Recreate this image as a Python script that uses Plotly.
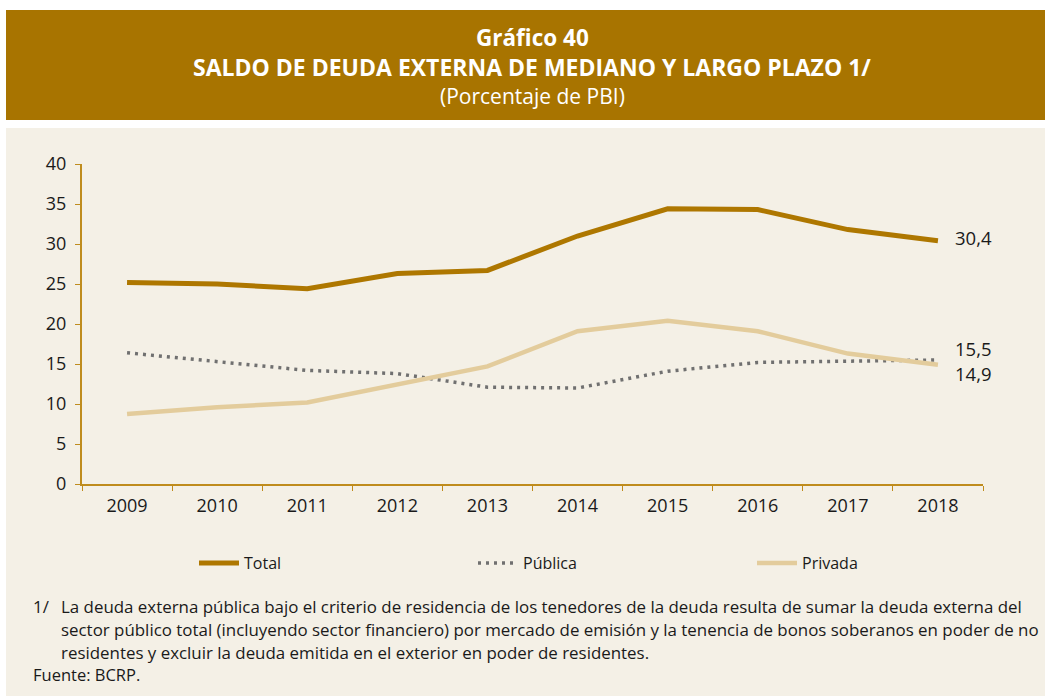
import plotly.graph_objects as go

years = ["2009", "2010", "2011", "2012", "2013", "2014", "2015", "2016", "2017", "2018"]
total = [25.2, 25.0, 24.4, 26.3, 26.7, 31.0, 34.4, 34.3, 31.8, 30.4]
publica = [16.4, 15.3, 14.2, 13.8, 12.1, 12.0, 14.1, 15.2, 15.3, 15.5]
privada = [8.75, 9.6, 10.2, 12.5, 14.7, 19.1, 20.4, 19.1, 16.3, 14.9]
y_ticks = [0, 5, 10, 15, 20, 25, 30, 35, 40]

C_TOTAL = "#AE7700"
C_PUB = "#707070"
C_PRIV = "#E3CC9C"
C_AXIS = "#BF8C1E"
FONT = "Open Sans"

fig = go.Figure()
fig.add_trace(go.Scatter(x=years, y=total, name="Total", mode="lines",
                         line=dict(color=C_TOTAL, width=5)))
fig.add_trace(go.Scatter(x=years, y=publica, name="Pública", mode="lines",
                         line=dict(color=C_PUB, width=3.5, dash="3px,5px")))
fig.add_trace(go.Scatter(x=years, y=privada, name="Privada", mode="lines",
                         line=dict(color=C_PRIV, width=4.5)))

def fmt(v):
    return f"{v:.1f}".replace(".", ",")

last = len(years) - 1
for series, ys in [(total, 3), (publica, 12), (privada, -9)]:
    fig.add_annotation(x=last, y=series[-1], xref="x", yref="y",
                       text=fmt(series[-1]), showarrow=False, xanchor="left",
                       xshift=16, yshift=ys, borderpad=0,
                       font=dict(family=FONT, size=18.5, color="#1a1a1a"))

def px_x(px):
    return (px - 82) / 901

def px_y(py):
    return (484 - py) / 320

# header banner and panel
fig.add_shape(type="rect", xref="paper", yref="paper", layer="below",
              x0=px_x(6), x1=px_x(1046), y0=px_y(120), y1=px_y(10),
              fillcolor="#A87400", line=dict(width=0))
fig.add_shape(type="rect", xref="paper", yref="paper", layer="below",
              x0=px_x(6), x1=px_x(1046), y0=px_y(696), y1=px_y(128),
              fillcolor="#F4F0E6", line=dict(width=0))

fig.add_annotation(xref="paper", yref="paper", x=px_x(532), y=px_y(38),
                   text="<b>Gráfico 40</b>", showarrow=False, xanchor="center", yanchor="middle",
                   font=dict(family=FONT, size=22.5, color="white"))
fig.add_annotation(xref="paper", yref="paper", x=px_x(532), y=px_y(67),
                   text="<b>SALDO DE DEUDA EXTERNA DE MEDIANO Y LARGO PLAZO 1/</b>", showarrow=False,
                   xanchor="center", yanchor="middle",
                   font=dict(family=FONT, size=23, color="white"))
fig.add_annotation(xref="paper", yref="paper", x=px_x(532), y=px_y(96),
                   text="(Porcentaje de PBI)", showarrow=False, xanchor="center", yanchor="middle",
                   font=dict(family=FONT, size=21, color="white"))

foot_lines = [
    "La deuda externa pública bajo el criterio de residencia de los tenedores de la deuda resulta de sumar la deuda externa del",
    "sector público total (incluyendo sector financiero) por mercado de emisión y la tenencia de bonos soberanos en poder de no",
    "residentes y excluir la deuda emitida en el exterior en poder de residentes.",
]
FS = 16.9
fig.add_annotation(xref="paper", yref="paper", x=px_x(31), y=px_y(606),
                   text="1/", showarrow=False, xanchor="left", yanchor="middle",
                   font=dict(family=FONT, size=FS, color="#1a1a1a"))
for i, t in enumerate(foot_lines):
    fig.add_annotation(xref="paper", yref="paper", x=px_x(59), y=px_y(606 + 23 * i),
                       text=t, showarrow=False, xanchor="left", yanchor="middle",
                       font=dict(family=FONT, size=FS, color="#1a1a1a"))
fig.add_annotation(xref="paper", yref="paper", x=px_x(31), y=px_y(674),
                   text="Fuente: BCRP.", showarrow=False, xanchor="left", yanchor="middle",
                   font=dict(family=FONT, size=16.5, color="#1a1a1a"))

fig.update_layout(
    width=1045, height=698,
    margin=dict(l=82, r=62, t=164, b=214, pad=0),
    paper_bgcolor="white",
    plot_bgcolor="#F4F0E6",
    font=dict(family=FONT, size=18, color="#1a1a1a"),
    showlegend=True,
    legend=dict(orientation="h", x=px_x(194), y=px_y(563), xanchor="left", yanchor="middle",
                entrywidth=224, entrywidthmode="pixels", bgcolor="rgba(0,0,0,0)",
                font=dict(family=FONT, size=16, color="#1a1a1a"), itemwidth=40),
    xaxis=dict(type="category", tickson="boundaries", showline=True, linecolor=C_AXIS,
               linewidth=2, ticks="outside", tickcolor=C_AXIS, ticklen=5, showgrid=False,
               tickfont=dict(size=18), zeroline=False, range=[-0.5, 9.5],
               ticklabelstandoff=4),
    yaxis=dict(range=[0, 40], tickvals=y_ticks, showline=True, linecolor=C_AXIS, linewidth=2,
               ticks="outside", tickcolor=C_AXIS, ticklen=5, showgrid=False, zeroline=False,
               tickfont=dict(size=18), ticklabelstandoff=5),
)

fig.write_html("out.html", config={"displayModeBar": False},
               post_script="document.body.style.margin='0';")
